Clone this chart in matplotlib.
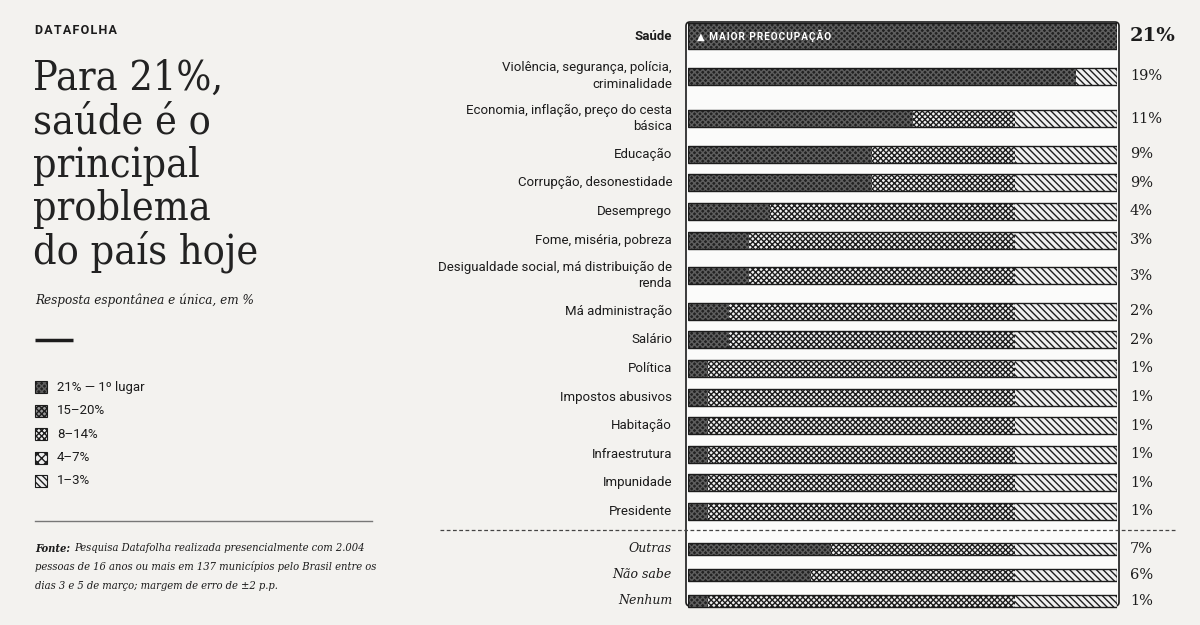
import matplotlib.pyplot as plt
from matplotlib.patches import FancyBboxPatch, Rectangle

# data
categories = ['Saúde', 'Violência, segurança, polícia,\ncriminalidade',
              'Economia, inflação, preço do cesta\nbásica', 'Educação',
              'Corrupção, desonestidade', 'Desemprego', 'Fome, miséria, pobreza',
              'Desigualdade social, má distribuição de\nrenda', 'Má administração',
              'Salário', 'Política', 'Impostos abusivos', 'Habitação',
              'Infraestrutura', 'Impunidade', 'Presidente']
values = [21, 19, 11, 9, 9, 4, 3, 3, 2, 2, 1, 1, 1, 1, 1, 1]
other_categories = ['Outras', 'Não sabe', 'Nenhum']
other_values = [7, 6, 1]
legend_labels = ['21% — 1º lugar', '15–20%', '8–14%', '4–7%', '1–3%']
title_lines = ['Para 21%,', 'saúde é o', 'principal', 'problema', 'do país hoje']
source_lines = ['Pesquisa Datafolha realizada presencialmente com 2.004',
                'pessoas de 16 anos ou mais em 137 municípios pelo Brasil entre os',
                'dias 3 e 5 de março; margem de erro de ±2 p.p.']

W, H = 1200, 625
BG = '#f3f2ef'
INK = '#1c1c1c'
TOP = 21
DIAG_START = 16
SERIF = 'DejaVu Serif'
SANS = ['Roboto', 'DejaVu Sans']
HS = '\u200a'

plt.rcParams['hatch.linewidth'] = 1.0

fig = plt.figure(figsize=(12, 6.25), dpi=100, facecolor=BG)

# background axes in pixel units
bg = fig.add_axes([0, 0, 1, 1])
bg.set_xlim(0, W)
bg.set_ylim(H, 0)
bg.axis('off')

# bar axes
ax = fig.add_axes([688 / W, 0, (1117 - 688) / W, 1])
ax.set_xlim(0, TOP)
ax.set_ylim(H, 0)
ax.axis('off')
ax.patch.set_alpha(0)


def px_to_x(px):
    return (px - 688) / (1117 - 688) * TOP


# frame around the bars
bg.add_patch(FancyBboxPatch((686, 22), 433, 584, boxstyle='round,pad=0,rounding_size=4',
                            facecolor='#fbfbfa', edgecolor=INK, lw=1.2, zorder=0))

# vertical layout
ys = []
y = 36
prev_half = None
for i, cat in enumerate(categories):
    half = 18.7 if i == 0 else (21.3 if '\n' in cat else 14.3)
    if prev_half is not None:
        y = y + prev_half + half
    ys.append(y)
    prev_half = half
heights = [26] + [17] * (len(categories) - 1)
other_ys = [ys[-1] + 37.5 + 26 * i for i in range(len(other_categories))]


def draw_bar(yc, v, h):
    ax.barh(yc, v, height=h, color='#222222', edgecolor='#5e5e5e', hatch='xxxxxx', lw=0)
    mid_end = max(v, DIAG_START)
    if mid_end > v:
        ax.barh(yc, mid_end - v, left=v, height=h, color='#f0f0f0', edgecolor='#1e1e1e',
                hatch='xxxxxx', lw=0)
    if TOP > mid_end:
        ax.barh(yc, TOP - mid_end, left=mid_end, height=h, color='#f0f0f0',
                edgecolor='#1e1e1e', hatch='\\\\\\\\\\', lw=0)
    ax.barh(yc, TOP, height=h, fill=False, edgecolor=INK, lw=1)


for cat, v, yc, h in zip(categories, values, ys, heights):
    draw_bar(yc, v, h)
    bold = cat == 'Saúde'
    ax.text(px_to_x(672), yc, cat, ha='right', va='center', family=SANS,
            fontsize=9.5, fontweight='bold' if bold else 'normal', color=INK,
            linespacing=1.35)
    ax.text(px_to_x(1130), yc, f'{v}%', ha='left', va='center', family=SERIF,
            fontsize=14 if bold else 10.5, fontweight='bold' if bold else 'normal',
            color=INK)

ax.text(px_to_x(697), ys[0], HS.join('▲ MAIOR PREOCUPAÇÃO'), ha='left', va='center',
        family=SANS, fontsize=7.2, fontweight='bold', color='white')

for cat, v, yc in zip(other_categories, other_values, other_ys):
    draw_bar(yc, v, 12)
    ax.text(px_to_x(672), yc, cat, ha='right', va='center', family=SERIF,
            style='italic', fontsize=9, color=INK)
    ax.text(px_to_x(1130), yc, f'{v}%', ha='left', va='center', family=SERIF,
            fontsize=10.5, color=INK)

# separator
bg.plot([440, 1175], [530, 530], ls=(0, (3, 2)), color='#444', lw=0.9)

# left column
bg.text(35, 30, HS.join('DATAFOLHA'), ha='left', va='center', family=SANS,
        fontsize=9, fontweight='bold', color=INK)
for i, line in enumerate(title_lines):
    bg.text(33, 90 + 43.3 * i, line, ha='left', va='baseline', family=SERIF,
            fontsize=29.5, fontstretch='condensed', color='#222')
bg.text(35, 300, 'Resposta espontânea e única, em %', ha='left', va='center',
        family=SERIF, style='italic', fontsize=9.6, fontstretch='condensed', color=INK)
bg.plot([35, 73], [340, 340], color=INK, lw=2.5, solid_capstyle='butt')

legend_styles = [('#222222', '#5e5e5e', 'xxxxxx'), ('#9a9a9a', '#1e1e1e', 'xxxxxx'),
                 ('#f0f0f0', '#1e1e1e', 'xxxxxx'), ('#f0f0f0', '#1e1e1e', 'xxxx'),
                 ('#f0f0f0', '#1e1e1e', '\\\\\\\\\\')]
for i, (lab, (fc, hc, hatch)) in enumerate(zip(legend_labels, legend_styles)):
    ly = 387 + 23.5 * i
    bg.add_patch(Rectangle((35, ly - 6), 12, 12, facecolor=fc, edgecolor=hc,
                           hatch=hatch, lw=0))
    bg.add_patch(Rectangle((35, ly - 6), 12, 12, fill=False, edgecolor=INK, lw=0.8))
    bg.text(57, ly, lab, ha='left', va='center', family=SANS, fontsize=9.5, color=INK)

bg.plot([35, 372], [521, 521], color='#777', lw=1)
fonte = bg.text(35, 548, 'Fonte:', ha='left', va='center', family=SERIF, style='italic',
                fontweight='bold', fontsize=8, fontstretch='condensed', color=INK)
bg.annotate(source_lines[0], xy=(1, 0.5), xycoords=fonte, xytext=(3, 0),
            textcoords='offset points', ha='left', va='center', family=SERIF,
            style='italic', fontsize=8, fontstretch='condensed', color=INK)
for i, line in enumerate(source_lines[1:]):
    bg.text(35, 567 + 19 * i, line, ha='left', va='center', family=SERIF,
            style='italic', fontsize=8, fontstretch='condensed', color=INK)

fig.savefig('out.png', dpi=100, facecolor=BG)
